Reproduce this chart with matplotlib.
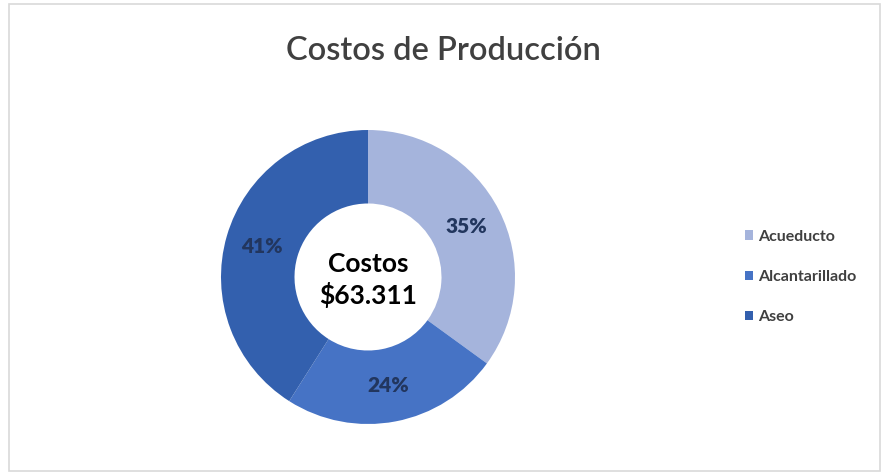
import numpy as np
import matplotlib.pyplot as plt
from matplotlib.patches import Rectangle

categorias = ['Acueducto', 'Alcantarillado', 'Aseo']
porcentajes = [35, 24, 41]
colores = ['#A5B4DC', '#4673C5', '#3360AE']
total = '$63.311'

plt.rcParams['font.family'] = ['Lato', 'DejaVu Sans']

W, H = 886, 476
fig = plt.figure(figsize=(W / 100, H / 100), dpi=100)

# marco gris claro del grafico
fig.patches.append(Rectangle((9 / W, 5 / H), 871 / W, 467 / H, transform=fig.transFigure,
                             fill=False, edgecolor='#D9D9D9', linewidth=1.2))

fig.text(443 / W, 1 - 60 / H, 'Costos de Producción', ha='center', va='baseline',
         fontsize=23.5, color='#404040', fontweight='semibold')

# dona centrada en (368, 277) px con radio 147 px
cx, cy, r = 368, 277, 147
ax = fig.add_axes([(cx - r) / W, 1 - (cy + r) / H, 2 * r / W, 2 * r / H])
wedges, textos = ax.pie(porcentajes, colors=colores, startangle=90, counterclock=False,
                        radius=1, wedgeprops=dict(width=0.5, edgecolor='none'))

# etiquetas de porcentaje en la mitad del anillo
acum = 0
for p in porcentajes:
    ang = np.deg2rad(90 - (acum + p / 2) * 3.6)
    ax.text(0.75 * np.cos(ang), 0.75 * np.sin(ang), f'{p}%', ha='center', va='center',
            fontsize=15, color='#22365E', fontweight='heavy')
    acum += p

ax.text(0, -0.02, 'Costos\n' + total, ha='center', va='center', fontsize=19,
        fontweight='bold', color='black', linespacing=1.3)
ax.set_xlim(-1, 1)
ax.set_ylim(-1, 1)
ax.set_aspect('equal')
ax.axis('off')

fig.legend(wedges, categorias, loc='center left', bbox_to_anchor=(731 / W, 1 - 277 / H),
           frameon=False, prop=dict(size=11.5, weight='bold'), handlelength=0.5,
           handleheight=0.5, handletextpad=0.3, labelspacing=1.65, labelcolor='#404040')

fig.savefig('out.png', dpi=100)
